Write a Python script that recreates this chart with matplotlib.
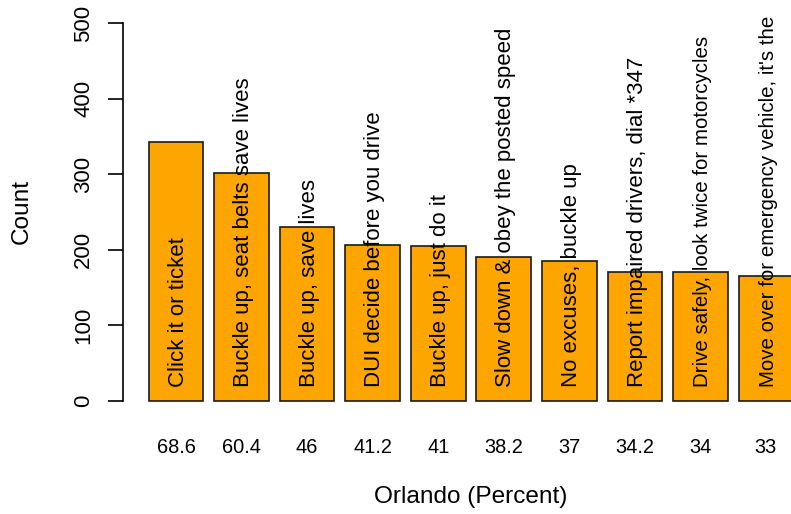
import matplotlib
matplotlib.use("Agg")
import matplotlib.pyplot as plt
import numpy as np

# ---- data ----
slogans = [
    "Click it or ticket",
    "Buckle up, seat belts save lives",
    "Buckle up, save lives",
    "DUI decide before you drive",
    "Buckle up, just do it",
    "Slow down & obey the posted speed",
    "No excuses, buckle up",
    "Report impaired drivers, dial *347",
    "Drive safely, look twice for motorcycles",
    "Move over for emergency vehicle, it's the",
]
counts = [343, 302, 230, 206, 205, 191, 185, 171, 170, 165]
percent_labels = ["68.6", "60.4", "46", "41.2", "41", "38.2", "37", "34.2", "34", "33"]
y_ticks = [0, 100, 200, 300, 400, 500]

# ---- style ----
plt.rcParams['font.family'] = ['Liberation Sans', 'DejaVu Sans']
base_fs = 16.0
label_cex = [1, 1, 1, 1, 1, 1, 1, 1, 0.92, 0.92]

W, H = 791, 514
fig = plt.figure(figsize=(W / 100, H / 100), dpi=100)
left_px, right_px, top_px, bottom_px = 123, 819, 8, 416
ax = fig.add_axes([left_px / W, 1 - bottom_px / H,
                   (right_px - left_px) / W, (bottom_px - top_px) / H])

n = len(counts)
x = 0.7 + 1.2 * np.arange(n)
ax.bar(x, counts, width=1.0, color='#FFA500', edgecolor='#1a1a1a',
       linewidth=1.2, clip_on=False, zorder=2)

ax.set_xlim(-0.272, 12.472)
ax.set_ylim(-20, 520)

for s in ['top', 'right', 'bottom']:
    ax.spines[s].set_visible(False)
ax.spines['left'].set_bounds(0, 500)
ax.spines['left'].set_linewidth(1.2)

ax.set_yticks(y_ticks)
ax.set_yticklabels([str(v) for v in y_ticks], fontsize=base_fs)
ax.tick_params(axis='y', length=10.5, width=1.2, pad=10.3)
for lab in ax.get_yticklabels():
    lab.set_rotation(90)
    lab.set_va('center')

ax.set_xticks(x)
ax.set_xticklabels(percent_labels, fontsize=base_fs * 0.9)
ax.tick_params(axis='x', length=0, pad=15.5)

ax.set_ylabel('Count', fontsize=base_fs * 1.1, va='center')
ax.yaxis.set_label_coords((22 - left_px) / (right_px - left_px), 0.5)
ax.set_xlabel('Orlando (Percent)', fontsize=base_fs * 1.1, va='center')
ax.xaxis.set_label_coords(0.5, (bottom_px - 497) / (bottom_px - top_px))

for xi, s, c in zip(x, slogans, label_cex):
    ax.annotate(s, xy=(xi, 18), xytext=(1.6, 0), textcoords='offset points',
                rotation=90, ha='center', va='bottom',
                fontsize=base_fs * c, annotation_clip=False, zorder=3)

fig.savefig('out.png', dpi=100)
